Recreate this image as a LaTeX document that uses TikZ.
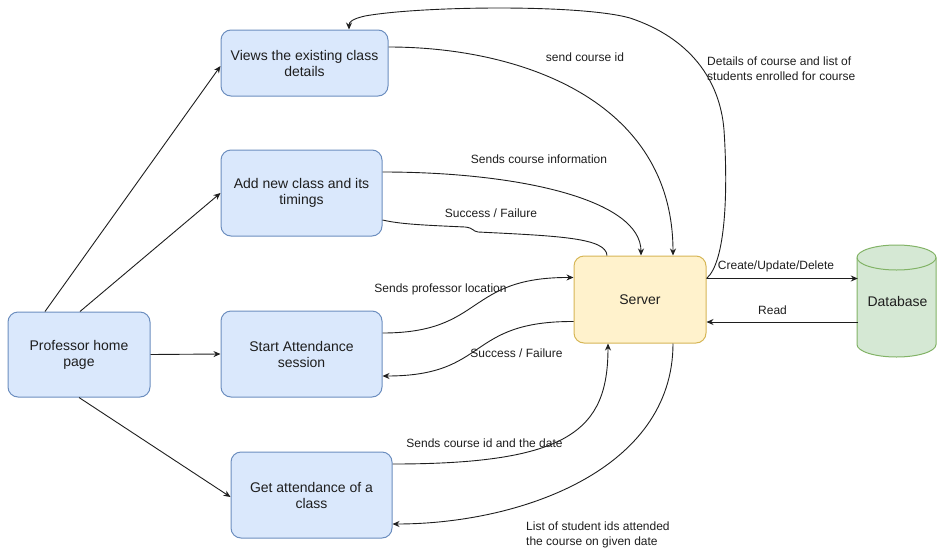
\documentclass[tikz,border=0pt]{standalone}
\usepackage{fontspec}
\setmainfont{Liberation Sans}
\usetikzlibrary{arrows.meta,calc}
\definecolor{boxblue}{HTML}{DAE8FC}
\definecolor{lineblue}{HTML}{6C8EBF}
\definecolor{srvfill}{HTML}{FFF2CC}
\definecolor{srvline}{HTML}{D6B656}
\definecolor{dbfill}{HTML}{D5E8D4}
\definecolor{dbline}{HTML}{82B366}
\definecolor{ink}{HTML}{1E1E1E}
\begin{document}
\begin{tikzpicture}[x=1pt,y=-1pt,
  font=\fontsize{14}{16}\selectfont,
  classbox/.style={draw=lineblue, fill=boxblue, rounded corners=10pt, line width=1pt,
    align=center, inner sep=0pt, text=ink},
  serverbox/.style={draw=srvline, fill=srvfill, rounded corners=10pt, line width=1pt,
    inner sep=0pt, text=ink},
  flow/.style={draw=ink, line width=0.9pt, -{Stealth[length=7pt,width=6pt]}},
  plainline/.style={draw=ink, line width=0.9pt},
  lbl/.style={font=\fontsize{12}{15}\selectfont, text=ink, inner sep=0pt}]

\useasboundingbox (0,0) rectangle (937,552);

% --- pages of the professor side ---
\node[classbox, minimum width=167pt, minimum height=66pt] (views) at (304.5,63)
  {Views the existing class\\details};
\node[classbox, minimum width=161pt, minimum height=86pt] (add) at (301.5,193)
  {Add new class and its\\timings};
\node[classbox, minimum width=161pt, minimum height=86pt] (start) at (301.5,354)
  {Start Attendance\\session};
\node[classbox, minimum width=161pt, minimum height=86pt] (get) at (311.5,495)
  {Get attendance of a\\class};
\node[classbox, minimum width=142pt, minimum height=85pt] (prof) at (79,354.5)
  {Professor home\\page};

% --- server ---
\node[serverbox, minimum width=132pt, minimum height=87pt] (server) at (640,299.5) {Server};

% --- database cylinder ---
\filldraw[fill=dbfill, draw=dbline, line width=1pt]
  (857,257.5) -- (857,344.5)
  arc[start angle=180, end angle=360, x radius=39.5pt, y radius=12.5pt]
  -- (936,257.5)
  arc[start angle=0, end angle=180, x radius=39.5pt, y radius=12.5pt] -- cycle;
\draw[dbline, line width=1pt] (857,257.5)
  arc[start angle=180, end angle=360, x radius=39.5pt, y radius=12.5pt];
\node[minimum width=79pt, minimum height=112pt, inner sep=0pt, text=ink] (db) at (897.5,301) {Database};

% --- home page navigation ---
\draw[flow] ($(prof.north)+(-34,0)$) -- ($(views.west)+(0,3)$);
\draw[flow] ($(prof.north)+(1,0)$) -- (add.west);
\draw[flow] (prof.east) -- (start.west);
\draw[flow] (prof.south) -- ($(get.west)+(0,2)$);

% --- view class details ---
\draw[flow] ($(views.east)+(0,-16)$) .. controls (520,47) and (673,100) .. ($(server.north)+(33,0)$);
\draw[flow] ($(server.east)+(0,-21)$) .. controls (726,262) and (728,190) .. (724,130)
  .. controls (720,80) and (690,38) .. (630,18)
  .. controls (580,4) and (420,6) .. (365,16)
  .. controls (352,19) and (349,22) .. ($(views.north)+(44.5,0)$);

% --- add class ---
\draw[flow] ($(add.east)+(0,-21)$) .. controls (520,172) and (641,200) .. ($(server.north)+(1,0)$);
\draw[plainline] ($(server.north)+(-33,0)$) .. controls (606,238) and (560,236) .. (478,232)
  .. controls (472,231) and (474,228) .. (465,227)
  .. controls (420,225) and (400,224) .. ($(add.east)+(0,27)$);

% --- attendance session ---
\draw[flow] ($(start.east)+(0,-21)$) .. controls (485,333) and (465,277) .. ($(server.west)+(0,-22)$);
\draw[flow] ($(server.west)+(0,22)$) .. controls (465,321) and (490,376) .. ($(start.east)+(0,22)$);

% --- attendance report ---
\draw[flow] ($(get.east)+(0,-31)$) .. controls (570,464) and (608,430) .. ($(server.south)+(-32,0)$);
\draw[flow] ($(server.south)+(33,0)$) .. controls (673,470) and (520,524) .. ($(get.east)+(0,29)$);

% --- database access ---
\draw[flow] ($(server.east)+(0,-21)$) -- ($(db.west)+(0,-22.5)$);
\draw[flow] ($(db.west)+(0,21)$) -- ($(server.east)+(0,22.5)$);

% --- connector labels ---
\node[lbl] (lsend) at (585,57) {send course id};
\node[lbl, align=left, anchor=west] (ldetails) at (707,69)
  {Details of course and list of\\students enrolled for course};
\node[lbl] (linfo) at (539,159) {Sends course information};
\node[lbl] (lok1) at (491,213) {Success / Failure};
\node[lbl] (lloc) at (440.5,289) {Sends professor location};
\node[lbl] (lok2) at (516.5,353) {Success / Failure};
\node[lbl] (ldate) at (484.5,443) {Sends course id and the date};
\node[lbl, align=left, anchor=west] (llist) at (526,534.5)
  {List of student ids attended\\the course on given date};
\node[lbl] (lcud) at (776,266) {Create/Update/Delete};
\node[lbl] (lread) at (772.5,310) {Read};
\end{tikzpicture}
\end{document}
